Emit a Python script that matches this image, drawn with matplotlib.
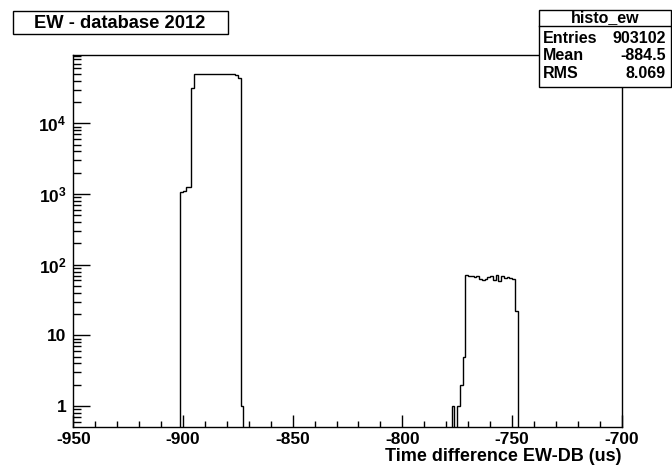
import numpy as np
import matplotlib.pyplot as plt
from matplotlib.patches import Rectangle
from matplotlib.ticker import FixedLocator, FuncFormatter, LogLocator, NullFormatter

plt.rcParams['font.family'] = ['Liberation Sans', 'DejaVu Sans']
plt.rcParams['font.weight'] = 'bold'
plt.rcParams['axes.unicode_minus'] = False
plt.rcParams['mathtext.fontset'] = 'custom'
plt.rcParams['mathtext.rm'] = 'Liberation Sans:bold'
plt.rcParams['mathtext.bf'] = 'Liberation Sans:bold'

# histogram definition (200 bins from -950 to -700)
x_min, x_max, n_bins = -950, -700, 200

# first peak, starting at -901.25
peak1_start = -901.25
peak1_counts = [1050, 1100, 1270, 1270, 31600,
                49500, 49300, 49400, 49200, 49500, 49300, 49200, 49400,
                49300, 49500, 49200, 49300, 49400, 49200, 49300, 48900,
                43600, 1]

# second peak, starting at -777.5
peak2_start = -777.5
peak2_counts = [1, 0, 1, 2, 5,
                71, 68, 70, 66, 68, 62, 60, 63, 66, 70, 60, 72, 58, 70, 64,
                67, 65, 62, 22]

title_text = "EW - database 2012"
stats_name = "histo_ew"
stats_rows = [("Entries", "903102"), ("Mean", "-884.5"), ("RMS", "8.069")]
x_label = "Time difference EW-DB (us)"

edges = np.linspace(x_min, x_max, n_bins + 1)
width = edges[1] - edges[0]
counts = np.zeros(n_bins)
i1 = int(round((peak1_start - x_min) / width))
counts[i1:i1 + len(peak1_counts)] = peak1_counts
i2 = int(round((peak2_start - x_min) / width))
counts[i2:i2 + len(peak2_counts)] = peak2_counts

W, H = 672, 466
fig = plt.figure(figsize=(W / 100, H / 100), dpi=100)
ax = fig.add_axes([73.3 / W, 1 - 426.7 / H, (621.7 - 73.3) / W, (426.7 - 55) / H])

plot_counts = np.where(counts > 0, counts, 1e-3)
ax.stairs(plot_counts, edges, color='black', linewidth=1.0, baseline=None)

ax.set_yscale('log')
ax.set_xlim(x_min, x_max)
ax.set_ylim(0.51, 92500)

ax.xaxis.set_major_locator(FixedLocator(np.arange(-950, -699, 50)))
ax.xaxis.set_minor_locator(FixedLocator(np.arange(-950, -699, 10)))
ax.yaxis.set_major_locator(LogLocator(base=10, numticks=10))
ax.yaxis.set_minor_locator(LogLocator(base=10, subs=np.arange(2, 10), numticks=20))
ax.yaxis.set_minor_formatter(NullFormatter())


def ylab(v, pos):
    n = int(round(np.log10(v)))
    if n == 0:
        return "1"
    if n == 1:
        return "10"
    return r"$\mathbf{10^{%d}}$" % n


ax.yaxis.set_major_formatter(FuncFormatter(ylab))

ax.tick_params(axis='both', which='both', direction='in', top=False, right=False,
               labelsize=12.5, width=1.0)
ax.tick_params(axis='x', which='major', length=8.6, pad=3.5)
ax.tick_params(axis='x', which='minor', length=4.3)
ax.tick_params(axis='y', which='major', length=12, pad=5)
ax.tick_params(axis='y', which='minor', length=5.8)
for lab in ax.get_xticklabels() + ax.get_yticklabels():
    lab.set_fontweight('bold')
for s in ax.spines.values():
    s.set_linewidth(1.0)

ax.set_xlabel(x_label, fontsize=13, fontweight='bold', loc='right', labelpad=1)


def px_rect(x0, y0, x1, y1):
    return Rectangle((x0 / W, 1 - y1 / H), (x1 - x0) / W, (y1 - y0) / H,
                     transform=fig.transFigure, fill=True, facecolor='white',
                     edgecolor='black', linewidth=1.0)


# title box
fig.patches.append(px_rect(12.7, 11, 227.7, 34.3))
fig.text(120 / W, 1 - 23 / H, title_text, ha='center', va='center',
         fontsize=13.2, fontweight='bold')

# stats box
fig.patches.append(px_rect(539.3, 10, 671, 86.7))
fig.add_artist(plt.Line2D([539.3 / W, 671 / W], [1 - 26 / H, 1 - 26 / H],
                          transform=fig.transFigure, color='black', linewidth=1.0))
fig.text(605 / W, 1 - 18 / H, stats_name, ha='center', va='center',
         fontsize=11.5, fontweight='bold')
for k, (name, val) in enumerate(stats_rows):
    y = 1 - (38.5 + 17.5 * k) / H
    fig.text(543.3 / W, y, name, ha='left', va='center', fontsize=11.5, fontweight='bold')
    fig.text(666 / W, y, val, ha='right', va='center', fontsize=11.5, fontweight='bold')

fig.savefig('out.png', dpi=100)
